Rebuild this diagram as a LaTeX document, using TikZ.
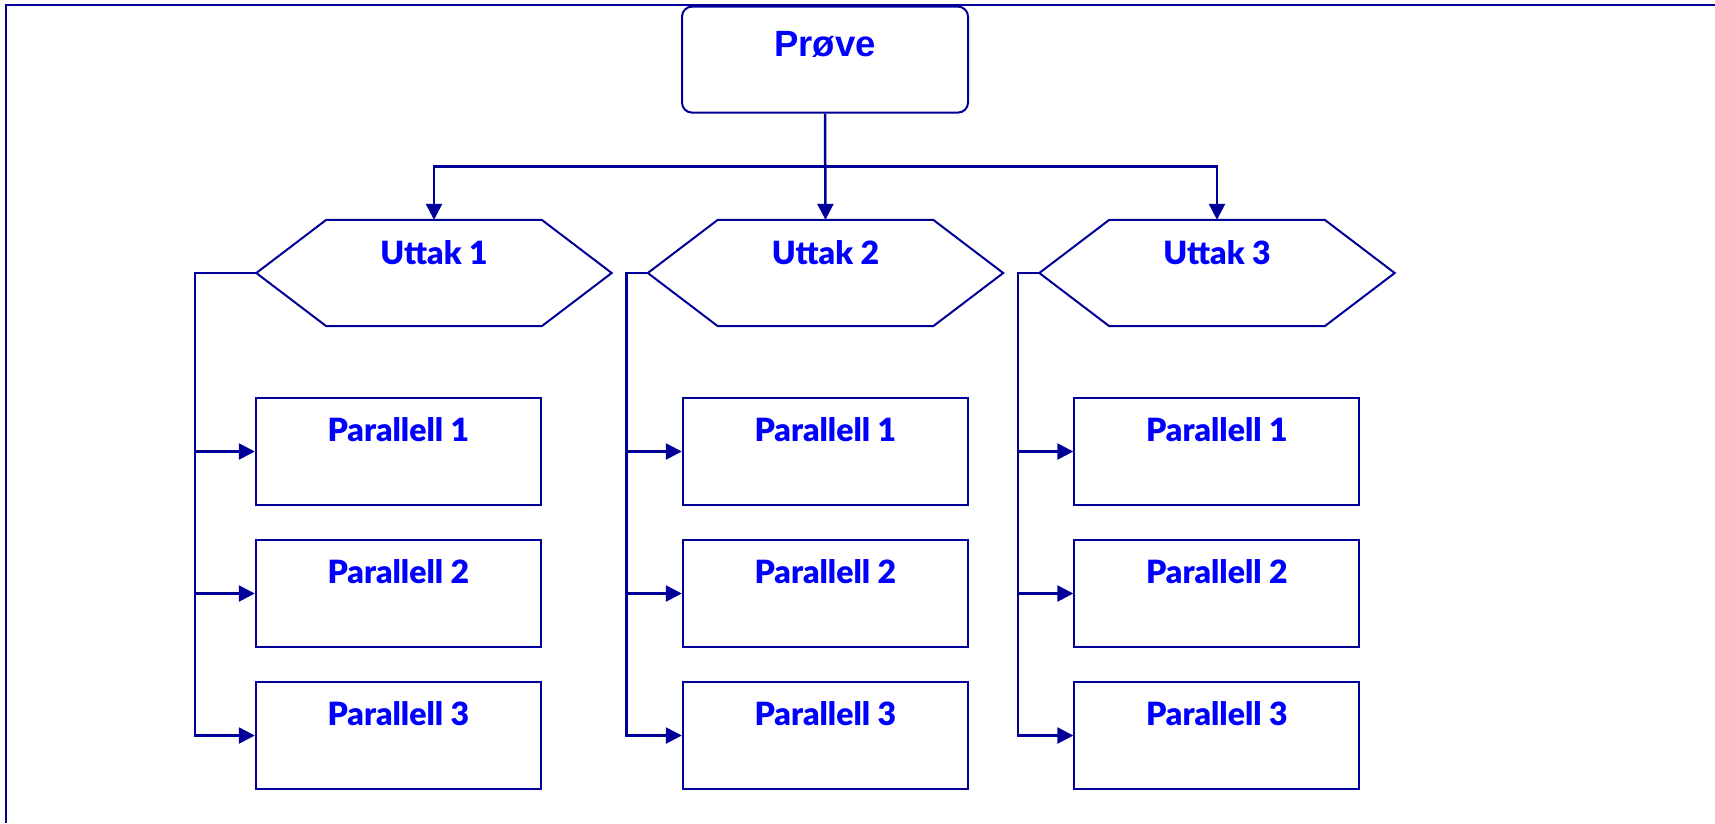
\documentclass[tikz,border=0pt]{standalone}
\usepackage{fontspec}
\setmainfont{Lato}[BoldFont={Lato Black}]
\newfontfamily\headfont{Liberation Sans}
\usetikzlibrary{arrows.meta}
\definecolor{linec}{RGB}{0,0,153}
\definecolor{textc}{RGB}{0,0,255}
\tikzset{
  every node/.style={text=textc, font=\fontsize{32}{36}\selectfont\bfseries},
  topbox/.style={draw=linec, line width=2pt, rounded corners=10pt,
    minimum width=286pt, minimum height=106pt, inner sep=0pt,
    text height=26pt, text depth=33pt,
    font=\headfont\fontsize{36.5}{40}\selectfont\bfseries},
  hexarea/.style={minimum width=355pt, minimum height=106pt, inner sep=0pt,
    text height=23pt, text depth=41pt},
  hexline/.style={draw=linec, line width=2pt, line join=miter},
  parbox/.style={draw=linec, line width=2pt, minimum width=285pt,
    minimum height=107pt, inner sep=0pt, text height=23pt, text depth=44pt},
  link/.style={draw=linec, line width=2.5pt},
  arr/.style={link, -{Triangle[length=16pt,width=16pt]}},
  frameline/.style={draw=linec, line width=2pt},
}
\begin{document}
\begin{tikzpicture}[x=1pt, y=-1pt]
\useasboundingbox (0,0) rectangle (1715,823);
% page frame (top and left edges)
\draw[frameline] (6,823) -- (6,5) -- (1715,5);

% top box
\node[topbox] (P) at (825,59.6) {Prøve};

% sampling points
\node[hexarea] (U1) at (434,273) {Uttak 1};
\node[hexarea] (U2) at (825.5,273) {Uttak 2};
\node[hexarea] (U3) at (1217,273) {Uttak 3};
\foreach \h in {U1,U2,U3}
  \draw[hexline] (\h.west) -- ([xshift=70pt]\h.north west)
    -- ([xshift=-70pt]\h.north east) -- (\h.east)
    -- ([xshift=-70pt]\h.south east) -- ([xshift=70pt]\h.south west) -- cycle;

% parallels
\foreach \c/\x in {1/398.3, 2/825.3, 3/1216.8}
  \foreach \r/\y in {1/451.5, 2/593.5, 3/735.5}
    \node[parbox] (p\c\r) at (\x,\y) {Parallell \r};

% distribution from the top box
\coordinate (J) at (825.5,166.7);
\draw[arr] (P.south) -- (U2.north);
\draw[arr] (J) -| (U1.north);
\draw[arr] (J) -| (U3.north);

% bus lines to the parallels
\coordinate (b1) at (195,0);
\coordinate (b2) at (626.7,0);
\coordinate (b3) at (1018,0);
\foreach \c in {1,2,3} {
  \draw[arr] (U\c.west) -- (U\c.west -| b\c) |- (p\c3.west);
  \draw[arr] (b\c |- p\c1.west) -- (p\c1.west);
  \draw[arr] (b\c |- p\c2.west) -- (p\c2.west);
}
\end{tikzpicture}
\end{document}
